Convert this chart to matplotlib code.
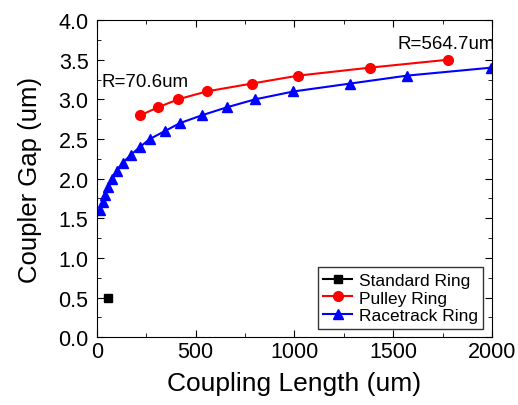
import numpy as np
import matplotlib.pyplot as plt
from matplotlib.ticker import MultipleLocator

plt.rcParams['font.family'] = ['Liberation Sans', 'DejaVu Sans']

#%% Data
std_len = [55]
std_gap = [0.5]

pulley_len = [220, 310, 410, 555, 785, 1020, 1380, 1775]
pulley_gap = [2.8, 2.9, 3.0, 3.1, 3.2, 3.3, 3.4, 3.5]

race_len = [15, 30, 42, 57, 76, 100, 130, 172, 218, 268, 344, 420, 532,
            658, 800, 995, 1283, 1570, 1995]
race_gap = [1.6, 1.7, 1.8, 1.9, 2.0, 2.1, 2.2, 2.3, 2.4, 2.5, 2.6, 2.7, 2.8,
            2.9, 3.0, 3.1, 3.2, 3.3, 3.4]

#%% Plot
fig = plt.figure(figsize=(5.18, 4.06), dpi=100)
ax = fig.add_axes([0.187, 0.167, 0.763, 0.781])

ax.plot(std_len, std_gap, 'ks-', ms=6, lw=1.5, label='Standard Ring')
ax.plot(pulley_len, pulley_gap, 'o-', color='red', ms=7, lw=1.5, label='Pulley Ring')
ax.plot(race_len, race_gap, '^-', color='blue', ms=7.5, lw=1.5, label='Racetrack Ring')

ax.text(25, 3.17, 'R=70.6um', fontsize=13.5)
ax.text(1520, 3.65, 'R=564.7um', fontsize=13.5, clip_on=True)

ax.set_xlim(0, 2000)
ax.set_ylim(0, 4.0)
ax.xaxis.set_major_locator(MultipleLocator(500))
ax.xaxis.set_minor_locator(MultipleLocator(250))
ax.yaxis.set_major_locator(MultipleLocator(0.5))
ax.yaxis.set_minor_locator(MultipleLocator(0.25))
ax.yaxis.set_major_formatter(plt.FormatStrFormatter('%.1f'))
ax.tick_params(which='both', direction='in', top=True, right=True, labelsize=15.5)
ax.tick_params(which='major', length=5)
ax.tick_params(axis='y', which='major', pad=6)
ax.tick_params(axis='x', which='major', pad=3)
ax.tick_params(which='minor', length=3)

ax.set_xlabel('Coupling Length (um)', fontsize=19, labelpad=6)
ax.set_ylabel('Coupler Gap (um)', fontsize=18.5, labelpad=12)

leg = ax.legend(loc='lower right', fontsize=12.5, fancybox=False, edgecolor='black',
                handlelength=1.7, borderaxespad=0.5, labelspacing=0.15,
                handletextpad=0.4, borderpad=0.3)
leg.get_frame().set_linewidth(1.0)

fig.savefig('out.png', dpi=100)
